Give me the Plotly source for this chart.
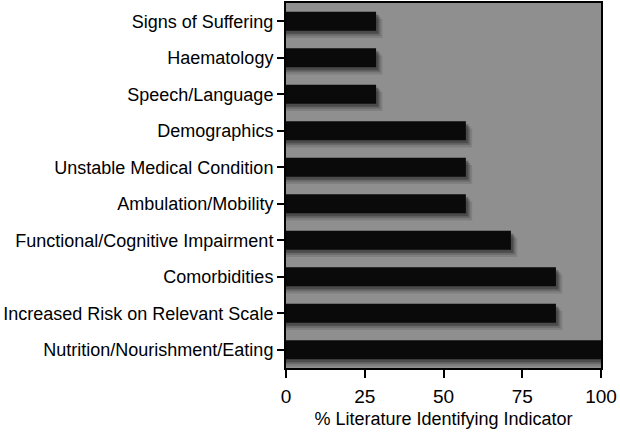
import plotly.graph_objects as go

# categories listed bottom to top
indicators = [
    "Nutrition/Nourishment/Eating",
    "Increased Risk on Relevant Scale",
    "Comorbidities",
    "Functional/Cognitive Impairment",
    "Ambulation/Mobility",
    "Unstable Medical Condition",
    "Demographics",
    "Speech/Language",
    "Haematology",
    "Signs of Suffering",
]
pct_literature = [100, 85.7, 85.7, 71.4, 57.1, 57.1, 57.1, 28.6, 28.6, 28.6]
x_ticks = [0, 25, 50, 75, 100]

bar_w = 0.52
fig = go.Figure()

# soft drop shadow, a few stacked translucent layers
for shift, alpha in [(0.2, 0.12), (0.14, 0.2), (0.08, 0.35)]:
    fig.add_trace(go.Bar(
        y=indicators, x=[v + shift * 10 for v in pct_literature],
        orientation="h", width=bar_w, offset=-bar_w / 2 - shift,
        marker=dict(color=f"rgba(20,20,20,{alpha})", line=dict(width=0)),
        hoverinfo="skip", showlegend=False,
    ))

fig.add_trace(go.Bar(
    y=indicators, x=pct_literature, orientation="h",
    width=bar_w, offset=-bar_w / 2,
    marker=dict(color="#0a0a0a", line=dict(width=0)),
    showlegend=False,
))

fig.update_layout(
    width=620, height=441,
    margin=dict(l=286, r=19, t=1, b=73),
    paper_bgcolor="white",
    plot_bgcolor="#8f8f8f",
    barmode="overlay",
    font=dict(family="Liberation Sans, Arial, sans-serif", size=18, color="black"),
    xaxis=dict(
        range=[0, 100], tickvals=x_ticks, ticks="outside", ticklen=8,
        tickwidth=2, tickcolor="black", showgrid=False, zeroline=False,
        showline=True, linecolor="black", linewidth=2, mirror=True,
        tickfont=dict(size=19), ticklabelstandoff=2,
        title=dict(text="% Literature Identifying Indicator", font=dict(size=18), standoff=7),
    ),
    yaxis=dict(
        ticks="outside", ticklen=7, tickwidth=2, tickcolor="black",
        showgrid=False, showline=True, linecolor="black", linewidth=2,
        mirror=True, range=[-0.5, 9.5],
    ),
)

fig.write_html("out.html", config={"displayModeBar": False},
               post_script="document.body.style.margin='0';")
